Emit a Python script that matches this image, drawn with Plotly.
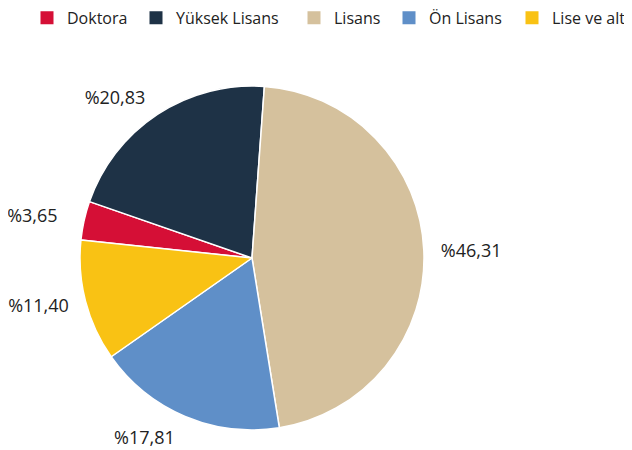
import plotly.graph_objects as go

labels = ["Doktora", "Yüksek Lisans", "Lisans", "Ön Lisans", "Lise ve altı"]
values = [3.65, 20.83, 46.31, 17.81, 11.40]
colors = ["#D50F36", "#1E3246", "#D5C19D", "#5F8FC8", "#F9C214"]

text = ["%" + f"{v:.2f}".replace(".", ",") for v in values]

W, H = 632, 450
cx, cy = 244, 250          # pie centre in figure pixels (from top-left)
r_pie, r_lab = 172, 183    # slice radius, label ring radius
label_pull = [0.055, 0, 0, 0, 0]   # nudges the small-slice label outward
lab_scale = 1 + max(label_pull)


def dom(r):
    return dict(x=[(cx - r) / W, (cx + r) / W],
                y=[(H - cy - r) / H, (H - cy + r) / H])


fig = go.Figure()

# visible slices
fig.add_trace(go.Pie(
    labels=labels, values=values,
    textinfo="none", sort=False, direction="clockwise", rotation=-84,
    marker=dict(colors=colors, line=dict(color="#FFFFFF", width=1.5)),
    domain=dom(r_pie), showlegend=False,
    hoverinfo="label+percent",
))

# transparent ring only used to place the outside labels a bit further out
fig.add_trace(go.Pie(
    labels=labels, values=values, text=text,
    textinfo="text", textposition="outside",
    sort=False, direction="clockwise", rotation=-84,
    pull=label_pull,
    marker=dict(colors=["rgba(0,0,0,0)"] * len(labels), line=dict(width=0)),
    textfont=dict(family="Open Sans", size=18, color="#222222"),
    domain=dom(r_lab * lab_scale), showlegend=False, hoverinfo="skip",
))

# legend entries, one legend each so the spacing can follow the reference
text_starts = [67, 176, 334, 429, 552]  # screen x where legend text begins
legend_layout = {}
for i, (lab, col) in enumerate(zip(labels, colors)):
    key = "legend" if i == 0 else f"legend{i + 1}"
    fig.add_trace(go.Scatter(
        x=[None], y=[None], mode="markers", name=lab,
        marker=dict(symbol="square", size=13, color=col),
        legend=key, showlegend=True, hoverinfo="skip",
    ))
    legend_layout[key] = dict(
        orientation="h",
        x=(text_starts[i] - 8 - 40) / W, xanchor="left",
        y=1.016, yanchor="top",
        font=dict(family="Open Sans", size=16, color="#222222"),
        bgcolor="rgba(0,0,0,0)",
    )

fig.update_layout(
    width=W, height=H,
    margin=dict(l=0, r=0, t=0, b=0, autoexpand=False),
    paper_bgcolor="white", plot_bgcolor="white",
    font=dict(family="Open Sans", color="#222222"),
    xaxis=dict(visible=False), yaxis=dict(visible=False),
    **legend_layout,
)

fig.write_html("out.html")
